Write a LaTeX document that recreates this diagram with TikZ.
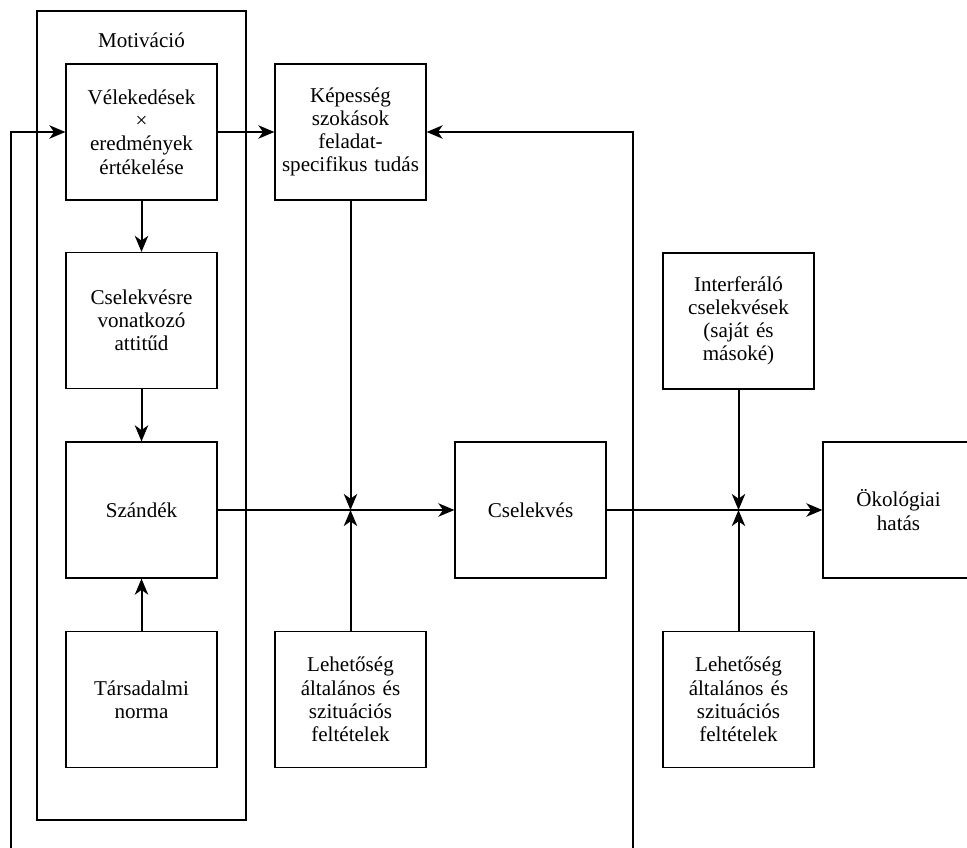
\documentclass[tikz,border=0pt]{standalone}
\usepackage{fontspec}
\setmainfont{Liberation Serif}
\usetikzlibrary{arrows.meta}
\begin{document}
\begin{tikzpicture}[x=0.75pt,y=-0.75pt,
  box/.style={draw, line width=0.9pt, minimum width=113.25pt, minimum height=102pt,
    inner sep=0pt, text width=110pt, align=center,
    font=\fontsize{15.8}{17.4}\selectfont},
  arr/.style={line width=1.5pt, -{Stealth[length=12pt,width=10pt,inset=3.5pt]}},
  ln/.style={line width=1.5pt}]
\useasboundingbox (0,0) rectangle (967,847);
\node[draw, line width=1.5pt, minimum width=156.75pt, minimum height=606.75pt, inner sep=0pt] (mot) at (141.5,415.5) {};
\node[font=\fontsize{15.8}{17.4}\selectfont] (motlab) at (141.5,40) {Motiváció};
\node[box] (vel) at (141.5,132) {Vélekedések\\×\\eredmények\\értékelése};
\node[box] (att) at (141.5,320.5) {Cselekvésre\\vonatkozó\\attitűd};
\node[box] (szan) at (141.5,510) {Szándék};
\node[box] (norm) at (141.5,699.5) {Társadalmi\\norma};
\node[box] (kep) at (350.5,132) {Képesség\\szokások\\feladat-\\specifikus tudás};
\node[box] (leh1) at (350.5,699.5) {Lehetőség\\általános és\\szituációs\\feltételek};
\node[box] (cse) at (530.5,510) {Cselekvés};
\node[box] (int) at (738.5,321) {Interferáló\\cselekvések\\(saját és\\másoké)};
\node[box] (oko) at (898.5,510) {Ökológiai\\hatás};
\node[box] (leh2) at (738.5,699.5) {Lehetőség\\általános és\\szituációs\\feltételek};
\coordinate (j1) at (350.5,510);
\coordinate (j2) at (738.5,510);
\coordinate (fb1) at (11,850);
\coordinate (fb2) at (633,850);
\draw[arr] (vel) -- (att);
\draw[arr] (att) -- (szan);
\draw[arr] (norm) -- (szan);
\draw[arr] (vel) -- (kep);
\draw[arr] (szan) -- (cse);
\draw[arr] (cse) -- (oko);
\draw[arr] (kep) -- (j1);
\draw[arr] (leh1) -- (j1);
\draw[arr] (int) -- (j2);
\draw[arr] (leh2) -- (j2);
\draw[arr] (fb1) |- (vel.west);
\draw[arr] (fb2) |- (kep.east);
\end{tikzpicture}
\end{document}
